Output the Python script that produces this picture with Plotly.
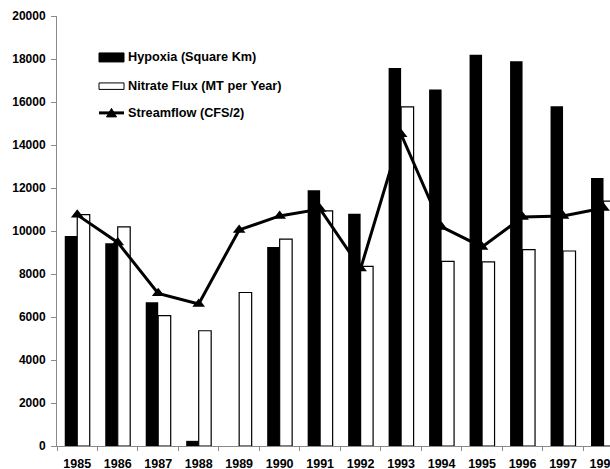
import plotly.graph_objects as go

# Annual series, 1985-1998
years = ["1985", "1986", "1987", "1988", "1989", "1990", "1991",
         "1992", "1993", "1994", "1995", "1996", "1997", "1998"]
hypoxia = [9770, 9430, 6690, 240, 0, 9250, 11900,
           10800, 17580, 16580, 18200, 17890, 15800, 12470]
nitrate_flux = [10760, 10190, 6060, 5360, 7140, 9620, 10940,
                8350, 15770, 8590, 8560, 9130, 9070, 11390]
streamflow = [10750, 9470, 7100, 6610, 10050, 10700, 11020,
              8250, 14500, 10190, 9260, 10650, 10700, 11070]

series_names = ["Hypoxia (Square Km)", "Nitrate Flux (MT per Year)",
                "Streamflow (CFS/2)"]

W, H = 610, 469
ML, MR, MT, MB = 57, 0, 16, 22.5
PW, PH = W - ML - MR, H - MT - MB

FAMILY = "Liberation Sans, Arial, sans-serif"
FONT = dict(family=FAMILY, size=12, color="black", weight=700)


def px_x(x):
    return (x - ML) / PW


def px_y(y):
    return (H - MB - y) / PH


fig = go.Figure()
fig.add_trace(go.Bar(
    x=years, y=hypoxia, name=series_names[0],
    marker=dict(color="black", line=dict(width=0)),
))
fig.add_trace(go.Bar(
    x=years, y=nitrate_flux, name=series_names[1],
    marker=dict(color="white", line=dict(color="black", width=1.2)),
))
fig.add_trace(go.Scatter(
    x=years, y=streamflow, name=series_names[2], mode="lines+markers",
    line=dict(color="black", width=3),
    marker=dict(symbol="triangle-up", size=11, color="black"),
))

# Hand-built key, drawn inside the plot area at upper left
shapes = []
annotations = []
key_x0, key_x1, text_x = 99, 124, 126
rows = [57.5, 86, 113]
shapes.append(dict(type="rect", xref="paper", yref="paper",
                   x0=px_x(key_x0), x1=px_x(key_x1),
                   y0=px_y(62), y1=px_y(53),
                   fillcolor="black", line=dict(color="black", width=1)))
shapes.append(dict(type="rect", xref="paper", yref="paper",
                   x0=px_x(key_x0), x1=px_x(key_x1),
                   y0=px_y(89.5), y1=px_y(83),
                   fillcolor="white", line=dict(color="black", width=1)))
shapes.append(dict(type="line", xref="paper", yref="paper",
                   x0=px_x(key_x0), x1=px_x(key_x1),
                   y0=px_y(113), y1=px_y(113),
                   line=dict(color="black", width=3)))
shapes.append(dict(type="path", xref="paper", yref="paper",
                   path="M {} {} L {} {} L {} {} Z".format(
                       px_x(106.5), px_y(117), px_x(116.5), px_y(117),
                       px_x(111.5), px_y(108.5)),
                   fillcolor="black", line=dict(color="black", width=1)))
for name, ry in zip(series_names, rows):
    annotations.append(dict(
        xref="paper", yref="paper", x=px_x(text_x), y=px_y(ry),
        xanchor="left", yanchor="middle", text=name, showarrow=False,
        font=dict(family=FAMILY, size=12.7, color="black", weight=700),
    ))

fig.update_layout(
    width=W, height=H, autosize=False,
    margin=dict(l=ML, r=MR, t=MT, b=MB, pad=0, autoexpand=False),
    paper_bgcolor="white", plot_bgcolor="white",
    barmode="group", bargap=0.383, bargroupgap=0,
    showlegend=False, font=FONT,
    shapes=shapes, annotations=annotations,
)
fig.update_xaxes(
    type="category", range=[-0.5, 13.16], automargin=False,
    showline=True, linecolor="#8a8a8a", linewidth=1,
    ticks="outside", tickson="boundaries", ticklen=4, tickcolor="#8a8a8a",
    showgrid=False, zeroline=False, ticklabelstandoff=6,
    tickfont=dict(family=FAMILY, size=12.5, color="black", weight=700),
)
fig.update_yaxes(
    range=[0, 20000], dtick=2000, tickformat="d", automargin=False,
    showline=True, linecolor="#8a8a8a", linewidth=1,
    ticks="outside", ticklen=5, tickcolor="#8a8a8a",
    showgrid=False, zeroline=False, ticklabelstandoff=3,
    tickfont=FONT,
)

fig.write_html("out.html")
